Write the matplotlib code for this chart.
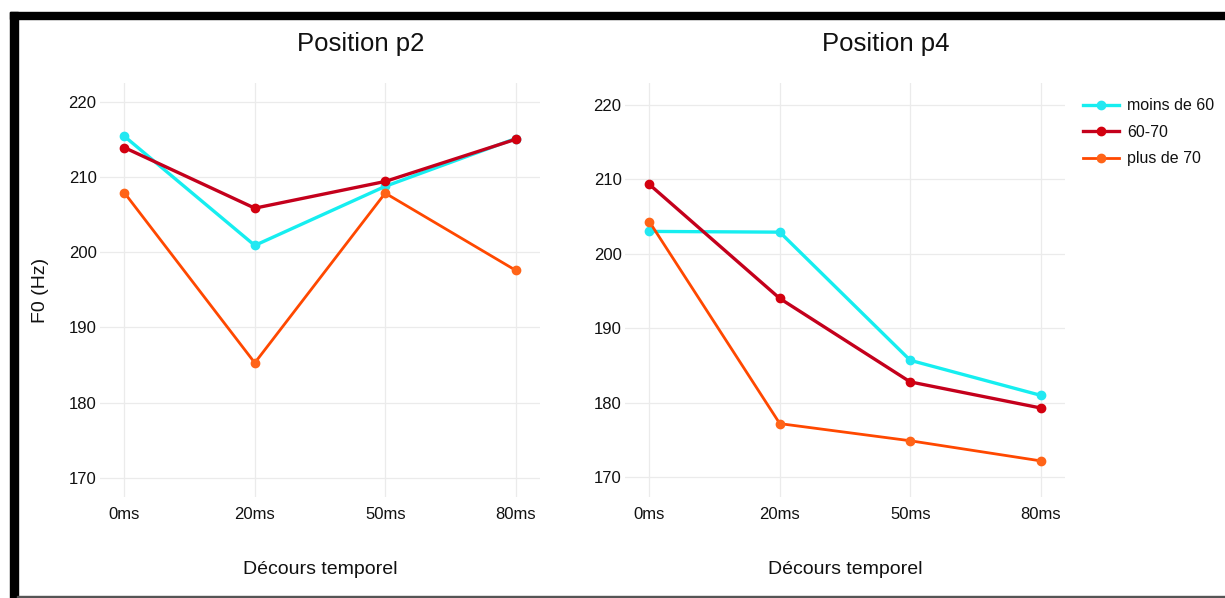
import matplotlib
matplotlib.use("Agg")
import matplotlib.pyplot as plt
from matplotlib.lines import Line2D
from matplotlib.patches import Rectangle

plt.rcParams['font.family'] = 'Liberation Sans'

# data
x_labels = ['0ms', '20ms', '50ms', '80ms']
groups = ['moins de 60', '60-70', 'plus de 70']

p2_moins60 = [215.4, 200.9, 208.75, 215.1]
p2_60_70 = [213.9, 205.85, 209.4, 215.0]
p2_plus70 = [207.9, 185.3, 207.85, 197.6]

p4_moins60 = [203.0, 202.9, 185.7, 181.0]
p4_60_70 = [209.3, 194.0, 182.8, 179.3]
p4_plus70 = [204.3, 177.2, 174.9, 172.2]

y_ticks = [170, 180, 190, 200, 210, 220]

line_colors = ['#16eef0', '#c4001c', '#ff4800']
marker_colors = ['#22e8f2', '#d3000f', '#ff6418']
line_widths = [2.4, 2.4, 2.0]

W, H = 1225, 598
fig = plt.figure(figsize=(W / 100, H / 100), dpi=100)


def fx(px):
    return px / W


def fy(px):
    return 1 - px / H


ax1 = fig.add_axes([fx(100), fy(497), fx(440), (497 - 83) / H])
ax2 = fig.add_axes([fx(625), fy(497), fx(440), (497 - 83) / H])

x = list(range(len(x_labels)))

panels = [
    (ax1, [p2_moins60, p2_60_70, p2_plus70], (167.48, 222.48)),
    (ax2, [p4_moins60, p4_60_70, p4_plus70], (167.35, 222.92)),
]

for ax, series, ylim in panels:
    for i, vals in enumerate(series):
        ax.plot(x, vals, color=line_colors[i], lw=line_widths[i], marker='o',
                markersize=6, markerfacecolor=marker_colors[i],
                markeredgecolor=marker_colors[i], zorder=3 + i)
    ax.set_xlim(-0.187, 3.187)
    ax.set_ylim(*ylim)
    ax.set_xticks(x)
    ax.set_xticklabels(x_labels)
    ax.set_yticks(y_ticks)
    ax.grid(True, color='#ebebeb', lw=0.9)
    ax.set_axisbelow(True)
    for s in ax.spines.values():
        s.set_visible(False)
    ax.tick_params(axis='both', length=0, labelsize=12, colors='#111111')
    ax.tick_params(axis='x', pad=7)
    ax.tick_params(axis='y', pad=2.5)
    ax.set_xlabel('Décours temporel', fontsize=14, labelpad=28, color='#111111')

ax1.set_ylabel('F0 (Hz)', fontsize=14, labelpad=14, color='#111111')

fig.text(fx(361), fy(51.5), 'Position p2', fontsize=18.5, ha='center', va='baseline', color='#111111')
fig.text(fx(886), fy(51.5), 'Position p4', fontsize=18.5, ha='center', va='baseline', color='#111111')

handles = [Line2D([], [], color=line_colors[i], lw=line_widths[i], marker='o', markersize=6,
                  markerfacecolor=marker_colors[i], markeredgecolor=marker_colors[i])
           for i in range(len(groups))]
fig.legend(handles, groups, loc='upper left', bbox_to_anchor=(fx(1082.7), fy(98.5)),
           frameon=False, fontsize=11.5, handlelength=2.3, handletextpad=0.5,
           labelspacing=0.72, borderpad=0, borderaxespad=0, labelcolor='#111111')

# black frame around the screenshot
fig.patches.append(Rectangle((fx(10), 0), fx(7.5), (H - 12) / H, transform=fig.transFigure,
                             color='black', zorder=10))
fig.patches.append(Rectangle((fx(10), fy(19)), 1, 7 / H, transform=fig.transFigure,
                             color='black', zorder=10))
fig.patches.append(Rectangle((fx(17), 0), 1, 2.5 / H, transform=fig.transFigure,
                             color='#555555', zorder=10))

fig.savefig('out.png', dpi=100)
